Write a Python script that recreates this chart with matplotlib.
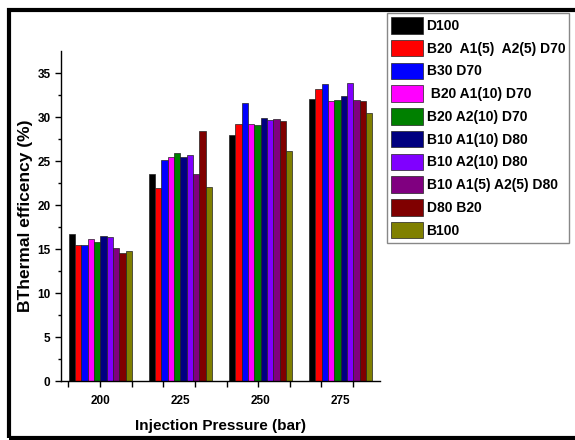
import numpy as np
import matplotlib
matplotlib.use("Agg")
import matplotlib.pyplot as plt
from matplotlib.patches import Rectangle

plt.rcParams['font.family'] = ['Liberation Sans', 'DejaVu Sans']
plt.rcParams['font.weight'] = 'bold'

pressures = ['200', '225', '250', '275']
series_names = ['D100', 'B20  A1(5)  A2(5) D70', 'B30 D70', ' B20 A1(10) D70',
                'B20 A2(10) D70', 'B10 A1(10) D80', 'B10 A2(10) D80',
                'B10 A1(5) A2(5) D80', 'D80 B20', 'B100']
colors = ['#000000', '#FF0000', '#0000FF', '#FF00FF', '#008000',
          '#000080', '#8000FF', '#800080', '#800000', '#808000']

D100 = [16.7, 23.5, 27.95, 32.0]
B20_A15_A25_D70 = [15.45, 21.9, 29.2, 33.15]
B30_D70 = [15.5, 25.1, 31.55, 33.8]
B20_A110_D70 = [16.1, 25.5, 29.2, 31.8]
B20_A210_D70 = [15.8, 25.9, 29.1, 31.9]
B10_A110_D80 = [16.5, 25.4, 29.9, 32.35]
B10_A210_D80 = [16.4, 25.7, 29.7, 33.85]
B10_A15_A25_D80 = [15.15, 23.5, 29.8, 31.95]
D80_B20 = [14.6, 28.4, 29.5, 31.8]
B100 = [14.8, 22.0, 26.1, 30.5]

series = [D100, B20_A15_A25_D70, B30_D70, B20_A110_D70, B20_A210_D70,
          B10_A110_D80, B10_A210_D80, B10_A15_A25_D80, D80_B20, B100]

fig = plt.figure(figsize=(5.75, 4.4), dpi=100)
ax = fig.add_axes([61/575, 1-381/440, (380-61)/575, (381-51)/440])

x = np.arange(len(pressures))
n = len(series)
w = 0.079
handles = []
for i, (vals, c, name) in enumerate(zip(series, colors, series_names)):
    b = ax.bar(x + (i - (n-1)/2) * w, vals, width=w, color=c,
               edgecolor='#222222', linewidth=0.5, label=name)
    handles.append(b)

ax.set_xlim(-0.49, 3.49)
ax.set_ylim(0, 37.5)
ax.spines['top'].set_visible(False)
ax.spines['right'].set_visible(False)
for s in ['left', 'bottom']:
    ax.spines[s].set_linewidth(1.0)

ax.set_yticks(np.arange(0, 36, 5))
ax.set_yticks(np.arange(0, 37.5, 2.5), minor=True)
ax.tick_params(axis='y', which='major', direction='out', length=4, width=1, labelsize=8.5)
ax.tick_params(axis='y', which='minor', direction='out', length=2.5, width=1)

# category labels (no marks) + separate tick marks as in the original
ax.set_xticks(x)
ax.set_xticklabels(pressures)
ax.set_xticks(np.arange(-0.4, 3.3, 0.395), minor=True)
ax.tick_params(axis='x', which='major', length=0, pad=10, labelsize=8.5)
ax.tick_params(axis='x', which='minor', direction='out', length=4, width=1)
for lab in ax.get_xticklabels() + ax.get_yticklabels():
    lab.set_fontweight('bold')

ax.set_xlabel('Injection Pressure (bar)', fontsize=11, fontweight='bold', labelpad=9)
ax.set_ylabel('BThermal efficency (%)', fontsize=12.5, fontweight='bold', labelpad=3)

leg = fig.legend(handles=handles, labels=series_names, loc='upper left',
                 bbox_to_anchor=(387/575, 1-13/440), bbox_transform=fig.transFigure,
                 borderaxespad=0, handlelength=2.3, handleheight=1.45,
                 handletextpad=0.25, labelspacing=0.45, borderpad=0.3,
                 fancybox=False, framealpha=1, edgecolor='#888888',
                 prop={'weight': 'bold', 'size': 10})
leg.get_frame().set_linewidth(1.0)

# outer black border of the picture
fig.patches.append(Rectangle((9/575, 1-438/440), 1.1, (438-10)/440,
                             transform=fig.transFigure, fill=False,
                             edgecolor='black', linewidth=3, clip_on=False))

fig.savefig('out.png', dpi=100)
